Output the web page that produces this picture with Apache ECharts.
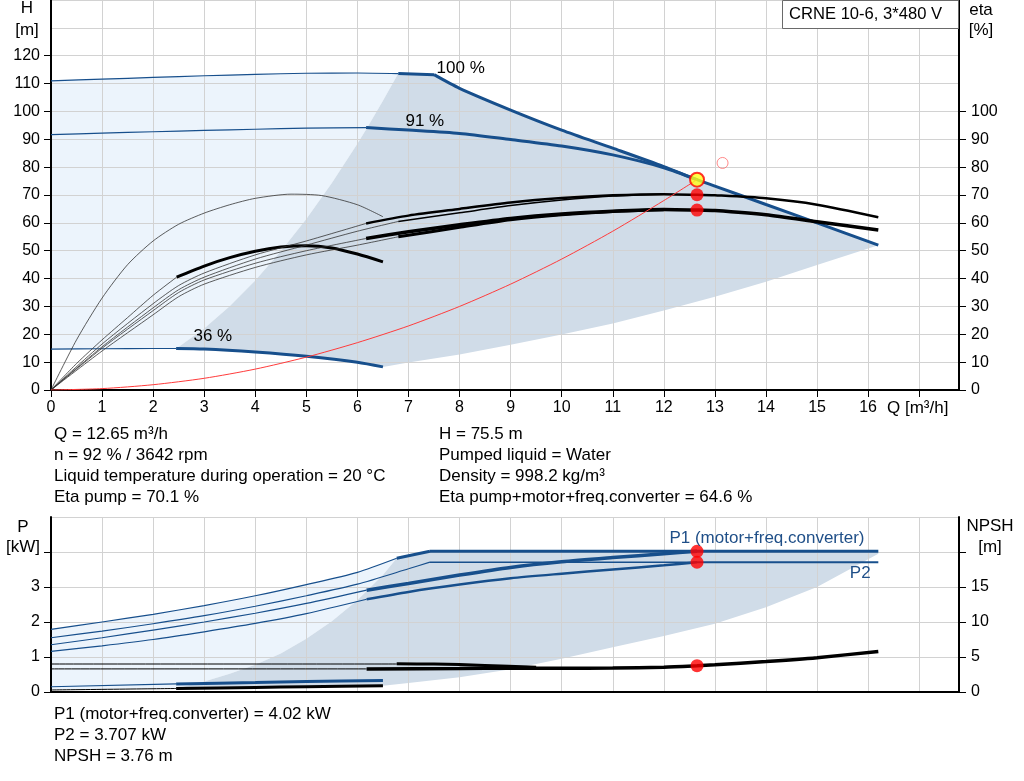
<!DOCTYPE html>
<html><head><meta charset="utf-8">
<script src="https://cdn.jsdelivr.net/npm/echarts@6/dist/echarts.min.js"></script>
<style>html,body{margin:0;padding:0;background:#fff}#c{width:1024px;height:781px}</style>
</head><body><div id="c"></div>
<script>
// ---------- axis ticks ----------
const qTicks = [0,1,2,3,4,5,6,7,8,9,10,11,12,13,14,15,16];
const qTickMarks = [0,1,2,3,4,5,6,7,8,9,10,11,12,13,14,15,16,17];
const hTicks = [0,10,20,30,40,50,60,70,80,90,100,110,120];
const etaTicks = [0,10,20,30,40,50,60,70,80,90,100];
const pTicks = [0,1,2,3];
const npshTicks = [0,5,10,15];

// ---------- head curves [Q, H] ----------
const h100Thin = [[0,111],[1,111.6],[2,112.2],[3,112.8],[4,113.3],[5,113.7],[6,113.8],[6.8,113.6]];
const h100Thick = [[6.8,113.6],[7.5,113.2]];
const h100Drop = [[7.5,113.2],[8,108.3],[9,100.5],[10,93.3],[11,86.8],[12,80.2],[12.65,75.5],[13,73.2],[14,66.6],[15,60],[16.2,52]];
const h91Thin = [[0,91.7],[1,92.2],[2,92.7],[3,93.2],[4,93.6],[5,94.0],[6.17,94.2]];
const h91Thick = [[6.17,94.2],[7,93.3],[8,92.1],[9,89.9],[10,87.6],[11,84.4],[12,79.8],[12.65,75.5]];
const h36Thin = [[0,14.7],[1,14.8],[2,14.9],[2.45,14.9]];
const h36Thick = [[2.45,14.9],[3,14.7],[4,13.6],[5,12.1],[6,10],[6.5,8.3]];
const systemCurve = [[0,0],[1,0.5],[2,1.9],[3,4.2],[4,7.5],[5,11.8],[6,17],[7,23],[8,30],[9,38],[10,47],[11,57],[12,68],[12.65,75.5]];

// ---------- efficiency curves [Q, eta] ----------
const etaPump36 = [[0,0],[0.5,18],[1,33],[1.5,45],[2,53.5],[2.5,59.5],[3,63.5],[3.5,66.5],[4,68.8],[4.7,70.3],[5.3,69.8],[6,66.5],[6.5,62.2]];
const etaTot36Thin = [[0,0],[0.5,9.5],[1,18],[1.5,26],[2,34],[2.46,40.5]];
const etaTot36Thick = [[2.46,40.5],[3,44.5],[3.5,47.5],[4,49.8],[4.5,51.3],[5,51.8],[5.5,51],[6,48.8],[6.5,46]];
const etaPump91Thin = [[0,0],[1,16.5],[2,31],[2.5,37.5],[3,42],[4,48.5],[5,53.5],[6.17,59.8]];
const etaPump100Thin = [[0,0],[1,15.5],[2,29.5],[2.5,36],[3,40.5],[4,47],[5,52],[6,57],[6.8,60.5]];
const etaTot91Thin = [[0,0],[1,15],[2,28.5],[2.5,35],[3,39.5],[4,45.5],[5,50],[6.17,54.4]];
const etaTot100Thin = [[0,0],[1,14],[2,27],[2.5,33.5],[3,38],[4,44],[5,48.5],[6,52],[6.8,55]];
const etaPumpThick = [[6.17,59.8],[7,62.6],[8,65],[9,67.3],[10,68.9],[11,69.9],[12,70.3],[12.65,70.1],[13,69.9],[14,68.8],[15,66.5],[16.2,62]];
const etaPump100Thick = [[6.8,60.5],[8,63.6],[9,66.2],[10,68.2],[11,69.6],[12,70.3]];
const etaTotThick = [[6.17,54.4],[7,56.8],[8,59.3],[9,61.6],[10,63.2],[11,64.2],[12,64.8],[12.65,64.6],[13,64.4],[14,62.9],[15,60.4],[16.2,57.4]];
const etaTot100Thick = [[6.8,55],[8,58.4],[9,61.1],[10,62.9],[11,64.1],[12,64.7]];

// ---------- region boundaries (top) ----------
const topLeftBound = [[2.45,14.8],[3,22.1],[3.5,30.1],[4,39.3],[4.5,49.8],[5,61.4],[5.5,74.3],[6,88.4],[6.2,94.4],[6.5,103.8],[6.8,113.6]];
const topLowerBound = [[6.5,8.3],[7,9.9],[8,12.7],[9,16.2],[10,19.9],[11,23.9],[12,28.5],[13,33.5],[14,38.9],[15,44.9],[16.2,52]];

// ---------- power curves [Q, P kW] ----------
const p1_100Thin = [[0,1.79],[1,2.0],[2,2.22],[3,2.47],[4,2.75],[5,3.07],[6,3.42],[6.77,3.82]];
const p1_100Thick = [[6.77,3.82],[7.42,4.02]];
const p1Flat = [[7.42,4.02],[12.65,4.02],[16.2,4.02]];
const p2_100Thin = [[0,1.55],[1,1.74],[2,1.95],[3,2.18],[4,2.45],[5,2.75],[6,3.08],[7,3.52],[7.42,3.71]];
const p2Flat = [[7.42,3.71],[12.65,3.71]];
const p2FlatEnd = [[12.65,3.71],[16.2,3.71]];
const p1_91Thin = [[0,1.35],[1,1.55],[2,1.77],[3,2.0],[4,2.25],[5,2.53],[6.18,2.91]];
const p1_91Thick = [[6.18,2.91],[7,3.1],[8,3.34],[9,3.56],[10,3.72],[11,3.84],[12,3.95],[12.65,4.02]];
const p2_91Thin = [[0,1.16],[1,1.32],[2,1.5],[3,1.72],[4,1.96],[5,2.24],[6.18,2.65]];
const p2_91Thick = [[6.18,2.65],[7,2.86],[8,3.07],[9,3.25],[10,3.38],[11,3.5],[12,3.62],[12.65,3.707]];
const p1_36Thin = [[0,0.15],[2.45,0.23]];
const p1_36Thick = [[2.45,0.23],[4,0.27],[5,0.3],[6.5,0.33]];

// ---------- NPSH curves [Q, m] ----------
const npsh100Thin = [[0,4.0],[6.77,4.0]];
const npsh100Thick = [[6.77,4.02],[7.5,4.0],[8.5,3.8],[9.5,3.55]];
const npsh91Thin = [[0,3.3],[6.18,3.3]];
const npsh91Thick = [[6.18,3.3],[8,3.35],[9,3.4],[10,3.4],[11,3.42],[12,3.55],[12.65,3.76],[13,3.9],[14,4.35],[15,4.9],[16.2,5.8]];
const npsh36Thin = [[0,0.29],[2.45,0.5]];
const npsh36Thick = [[2.45,0.5],[4,0.65],[5,0.75],[6.5,0.91]];

// ---------- region boundaries (bottom, kW) ----------
const botLeftBound = [[2.45,0.1],[3,0.3],[3.5,0.52],[4,0.78],[4.5,1.1],[5,1.52],[5.5,2.02],[6,2.62],[6.5,3.34],[6.77,3.82]];
const botLowerBound = [[6.5,0.18],[7,0.26],[8,0.42],[9,0.65],[10,0.95],[11,1.28],[12,1.6],[13,1.95],[14,2.42],[15,3.0],[16.2,3.95]];
const botBase = [[0,0.06],[2.45,0.1],[4,0.13],[5,0.15],[6.5,0.18]];

// ---------- duty point ----------
const dutyH = [[12.65,75.5]];
const dutyEta = [[12.65,70.1],[12.65,64.6]];
const dutyP = [[12.65,4.02],[12.65,3.707]];
const dutyNpsh = [[12.65,3.76]];
const requestedPoint = [[13.15,81.5]];

// ---------- curve labels ----------
const speedLabels = [[7.56,115.2,'100 %'],[6.95,96.2,'91 %'],[2.8,19.0,'36 %']];
const powerLabels = [[15.94,4.39,'P1 (motor+freq.converter)'],[16.06,3.39,'P2']];

// ---------- text ----------
const infoLeft = ['Q = 12.65 m³/h','n = 92 % / 3642 rpm','Liquid temperature during operation = 20 °C','Eta pump = 70.1 %'];
const infoRight = ['H = 75.5 m','Pumped liquid = Water','Density = 998.2 kg/m³','Eta pump+motor+freq.converter = 64.6 %'];
const infoBottom = ['P1 (motor+freq.converter) = 4.02 kW','P2 = 3.707 kW','NPSH = 3.76 m'];

const FONT = '"Liberation Sans", Arial, sans-serif';
const BLUE = '#174f8c';
const LIGHT = '#ecf4fc';
const DARK = '#d0dce8';
const GRIDC = '#d2d2d2';

const rev = a => a.slice().reverse();
const topLight = [...h100Thin, ...rev(topLeftBound), ...rev(h36Thin)];
const topDark = [...topLeftBound, ...h100Thick.slice(1), ...h100Drop.slice(1), ...rev(topLowerBound), ...rev(h36Thick)];
const botLight = [...p1_100Thin, ...rev(botLeftBound), [0,0.06]];
const botDark = [...botLeftBound, ...p1_100Thick.slice(1), ...p1Flat.slice(1), ...rev(botLowerBound), ...rev(botBase.filter(p=>p[0]>=2.45))];

function line(data, color, width, xi, yi, z) {
  return {type:'line', data, xAxisIndex:xi, yAxisIndex:yi, symbol:'none', showSymbol:false,
    smooth:0.25, lineStyle:{color, width}, z: z||3, silent:true, animation:false};
}
function poly(points, fill, xi, yi) {
  return {type:'custom', xAxisIndex:xi, yAxisIndex:yi, data:[[0,0]], z:0, silent:true, animation:false,
    renderItem:(params, api)=>({type:'polygon', shape:{points: points.map(p=>api.coord(p))}, style:{fill}})};
}
function dots(data, xi, yi, size, color, border, bw) {
  return {type:'scatter', data, xAxisIndex:xi, yAxisIndex:yi, symbolSize:size, z:10, silent:true, animation:false,
    itemStyle:{color, borderColor:border||color, borderWidth:bw||0}};
}
function labels(data, xi, yi, align, color) {
  return {type:'scatter', data, xAxisIndex:xi, yAxisIndex:yi, symbolSize:1, z:11, silent:true, animation:false,
    itemStyle:{color:'rgba(0,0,0,0)'},
    label:{show:true, formatter:p=>p.data[2], position:[0,0], align, verticalAlign:'middle',
      fontSize:17, fontFamily:FONT, color, textBorderWidth:0, opacity:1}};
}

const QMAX = 17.78;
const xBase = (gi, showLabels) => ({
  gridIndex:gi, type:'value', min:0, max:QMAX, interval:1, z:1,
  axisLine:{show:true, onZero:false, lineStyle:{color:'#000', width:2}},
  axisTick:{show:showLabels, length:7, customValues:qTickMarks, lineStyle:{color:'#000', width:1}},
  axisLabel:{show:showLabels, margin:10, fontSize:16, fontFamily:FONT, color:'#000', customValues:qTicks,
    formatter:v=> qTicks.includes(v) ? String(v) : ''},
  splitLine:{show:true, lineStyle:{color:GRIDC, width:1}}
});
const yVis = (gi, pos, max, interval, tickVals, labelVals, margin) => ({
  gridIndex:gi, type:'value', position:pos, min:0, max, interval, z:2,
  axisLine:{show:true, onZero:false, lineStyle:{color:'#000', width:2}},
  axisTick:{show:true, length:7, inside:false, customValues:tickVals, lineStyle:{color:'#000', width:1}},
  axisLabel:{show:true, margin, fontSize:16, fontFamily:FONT, color:'#000', customValues:labelVals,
    formatter:v=> labelVals.includes(v) ? String(v) : ''},
  splitLine:{show:false}
});
const yGrid = (gi, max, interval) => ({
  gridIndex:gi, type:'value', min:0, max, interval, z:1, show:true,
  axisLine:{show:false}, axisTick:{show:false}, axisLabel:{show:false},
  splitLine:{show:true, lineStyle:{color:GRIDC, width:1}}
});

const graphic = [];
function txt(x, y, text, opts) {
  graphic.push(Object.assign({type:'text', x, y, z:100, silent:true,
    style:Object.assign({text, font:'17px '+FONT, fill:'#000', align:'left', verticalAlign:'middle'}, opts||{})}));
}
graphic.push({type:'rect', z:99, silent:true, shape:{x:782.5, y:0.5, width:176, height:28}, style:{fill:'#fff', stroke:'#6a6a6a', lineWidth:1}});
txt(789, 14, 'CRNE 10-6, 3*480 V', {font:'16.6px '+FONT});
txt(27, 8, 'H', {align:'center'});
txt(27, 30, '[m]', {align:'center'});
txt(981, 10, 'eta', {align:'center'});
txt(981, 30, '[%]', {align:'center'});
txt(887, 408, 'Q [m³/h]');
txt(23, 527, 'P', {align:'center'});
txt(23, 547, '[kW]', {align:'center'});
txt(990, 526, 'NPSH', {align:'center'});
txt(990, 547, '[m]', {align:'center'});
infoLeft.forEach((t,i)=>txt(54, 434+21*i, t));
infoRight.forEach((t,i)=>txt(439, 434+21*i, t));
infoBottom.forEach((t,i)=>txt(54, 714+21*i, t));

const option = {
  animation:false,
  backgroundColor:'#fff',
  grid:[
    {left:51, right:65, top:0, height:390, containLabel:false},
    {left:51, right:65, top:517, height:175, containLabel:false}
  ],
  xAxis:[xBase(0,true), xBase(1,false)],
  yAxis:[
    yVis(0,'left',140,10,hTicks,hTicks,11),
    yVis(0,'right',140,10,etaTicks,etaTicks,12),
    yVis(1,'left',5,1,[0,1,2,3,4],pTicks,11),
    yVis(1,'right',25,5,[0,5,10,15,20],npshTicks,12),
    yGrid(0,140,10),
    yGrid(1,5,1)
  ],
  graphic,
  series:[
    poly(topLight, LIGHT, 0, 0),
    poly(topDark, DARK, 0, 0),
    poly(botLight, LIGHT, 1, 2),
    poly(botDark, DARK, 1, 2),
    // head
    line(h100Thin, BLUE, 1.2, 0, 0),
    line(h100Thick, BLUE, 3, 0, 0),
    line(h100Drop, BLUE, 3, 0, 0),
    line(h91Thin, BLUE, 1.2, 0, 0),
    line(h91Thick, BLUE, 3, 0, 0),
    line(h36Thin, BLUE, 1.2, 0, 0),
    line(h36Thick, BLUE, 3, 0, 0),
    line(systemCurve, '#ff3b3b', 1, 0, 0, 4),
    // efficiency
    line(etaPump36, '#333', 0.8, 0, 1),
    line(etaTot36Thin, '#333', 0.8, 0, 1),
    line(etaTot36Thick, '#000', 3, 0, 1),
    line(etaPump91Thin, '#333', 0.8, 0, 1),
    line(etaPump100Thin, '#333', 0.8, 0, 1),
    line(etaTot91Thin, '#333', 0.8, 0, 1),
    line(etaTot100Thin, '#333', 0.8, 0, 1),
    line(etaPump100Thick, '#000', 1.5, 0, 1),
    line(etaPumpThick, '#000', 2.5, 0, 1),
    line(etaTot100Thick, '#000', 3, 0, 1),
    line(etaTotThick, '#000', 3.5, 0, 1),
    // power
    line(p1_100Thin, BLUE, 1.2, 1, 2),
    line(p1_100Thick, BLUE, 3, 1, 2),
    line(p1Flat, BLUE, 3, 1, 2),
    line(p2_100Thin, BLUE, 1.2, 1, 2),
    line(p2Flat, BLUE, 1.5, 1, 2),
    line(p2FlatEnd, BLUE, 2, 1, 2),
    line(p1_91Thin, BLUE, 1.2, 1, 2),
    line(p1_91Thick, BLUE, 3.5, 1, 2),
    line(p2_91Thin, BLUE, 1.2, 1, 2),
    line(p2_91Thick, BLUE, 2.5, 1, 2),
    line(p1_36Thin, BLUE, 1.2, 1, 2),
    line(p1_36Thick, BLUE, 3, 1, 2),
    // NPSH
    line(npsh100Thin, '#000', 1, 1, 3),
    line(npsh100Thick, '#000', 3, 1, 3),
    line(npsh91Thin, '#000', 1, 1, 3),
    line(npsh91Thick, '#000', 3.5, 1, 3),
    line(npsh36Thin, '#000', 1, 1, 3),
    line(npsh36Thick, '#000', 3, 1, 3),
    // points
    dots(requestedPoint, 0, 0, 11, 'rgba(0,0,0,0)', '#ff6b6b', 1),
    dots(dutyEta, 0, 1, 13, '#ff0000'),
    dots(dutyH, 0, 0, 14, '#ffff1a', '#ff0000', 2),
    dots(dutyP, 1, 2, 13, '#ff0000'),
    dots(dutyNpsh, 1, 3, 13, '#ff0000'),
    labels(speedLabels, 0, 0, 'left', '#000'),
    labels(powerLabels, 1, 2, 'right', '#1f4f88')
  ]
};
const chart = echarts.init(document.getElementById('c'), null, {renderer:'canvas'});
chart.setOption(option);
</script></body></html>
